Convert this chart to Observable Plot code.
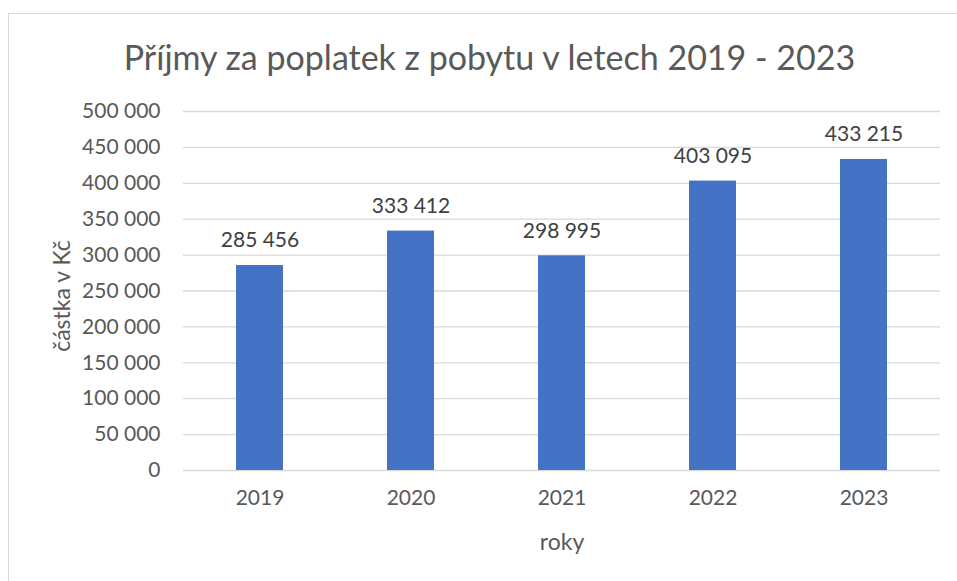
<!DOCTYPE html>
<html>
<head>
<meta charset="utf-8">
<script src="https://cdn.jsdelivr.net/npm/d3@7"></script>
<script src="https://cdn.jsdelivr.net/npm/@observablehq/plot@0.6"></script>
<style>
  html, body { margin: 0; padding: 0; background: #fff; }
  #wrap { position: relative; width: 957px; height: 581px; overflow: hidden; font-family: Lato, "Open Sans", sans-serif; }
  #frame { position: absolute; left: 8px; top: 13px; width: 1000px; height: 700px;
           border-left: 1.5px solid #d9d9d9; border-top: 1.5px solid #d9d9d9; box-sizing: border-box; }
  #title { position: relative; height: 90px; box-sizing: border-box; padding-top: 40px;
           text-align: center; font-size: 34px; line-height: 34px; color: #595959; padding-left: 22px; }
  #chart { position: relative; }
</style>
</head>
<body>
<div id="wrap">
  <div id="frame"></div>
  <div id="title">Příjmy za poplatek z pobytu v letech 2019 - 2023</div>
  <div id="chart"></div>
</div>
<script>
const years = ["2019", "2020", "2021", "2022", "2023"];
const values = [285456, 333412, 298995, 403095, 433215];
const yTicks = [0, 50000, 100000, 150000, 200000, 250000, 300000, 350000, 400000, 450000, 500000];
const yLabel = "částka v Kč";
const xLabel = "roky";

const data = years.map((y, i) => ({year: y, value: values[i]}));
const fmt = v => d3.format(",")(v).replace(/,/g, " ");

const chart = Plot.plot({
  width: 957,
  height: 491,
  marginLeft: 183,
  marginRight: 17,
  marginTop: 21,
  marginBottom: 111,
  style: {fontFamily: "Lato, 'Open Sans', sans-serif", fontSize: "21px", color: "#595959", background: "transparent"},
  x: {domain: years, paddingInner: 0.686, paddingOuter: 0.343, label: null},
  y: {domain: [0, 500000], label: null},
  marks: [
    Plot.gridY(yTicks, {stroke: "#d9d9d9", strokeOpacity: 1, strokeWidth: 1.3}),
    Plot.barY(data, {x: "year", y: "value", fill: "#4472c4"}),
    Plot.text(data, {x: "year", y: "value", text: d => fmt(d.value), dy: -25, lineAnchor: "middle", fill: "#404040", fontSize: 21}),
    Plot.axisY(yTicks, {tickSize: 0, tickPadding: 23, tickFormat: fmt, fill: "#595959", fontSize: 21, label: null}),
    Plot.axisX({tickSize: 0, tickPadding: 20, fill: "#595959", fontSize: 21, label: null}),
    Plot.text([yLabel], {frameAnchor: "left", textAnchor: "middle", rotate: -90, dx: -121, dy: 5, fill: "#595959", fontSize: 23, lineAnchor: "middle"}),
    Plot.text([xLabel], {frameAnchor: "bottom", dy: 72, fill: "#595959", fontSize: 23, lineAnchor: "middle"})
  ]
});
document.getElementById("chart").appendChild(chart);
</script>
</body>
</html>
